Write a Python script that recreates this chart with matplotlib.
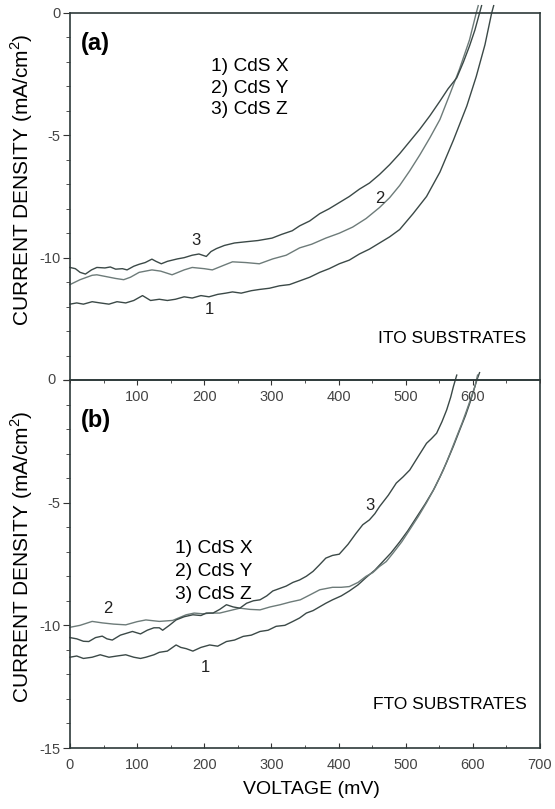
import matplotlib.pyplot as plt
from matplotlib.ticker import MultipleLocator

plt.rcParams['font.family'] = ['Liberation Sans', 'DejaVu Sans']
plt.rcParams['mathtext.fontset'] = 'custom'
plt.rcParams['mathtext.rm'] = 'Liberation Sans'
plt.rcParams['axes.unicode_minus'] = False

# (a) ITO substrates
ito_x1 = [0, 10, 20, 33, 45, 58, 70, 83, 95, 108, 120, 133, 145, 157, 170, 182, 195, 207, 220, 232,
          242, 255, 270, 282, 297, 312, 327, 342, 357, 372, 386, 401, 416, 431, 446, 461, 476, 491,
          511, 531, 551, 571, 591, 605, 618, 628, 631]
ito_y1 = [-11.9, -11.85, -11.9, -11.8, -11.85, -11.9, -11.8, -11.85, -11.75, -11.55, -11.75, -11.7,
          -11.75, -11.7, -11.6, -11.65, -11.55, -11.6, -11.5, -11.45, -11.4, -11.45, -11.35, -11.3,
          -11.25, -11.15, -11.1, -10.95, -10.8, -10.6, -10.45, -10.25, -10.1, -9.85, -9.65, -9.4,
          -9.15, -8.85, -8.2, -7.5, -6.5, -5.2, -3.8, -2.6, -1.3, 0, 0.3]
ito_x2 = [0, 15, 33, 40, 55, 68, 80, 90, 103, 122, 135, 152, 170, 182, 200, 212, 230, 242, 262,
          282, 302, 322, 342, 360, 381, 401, 421, 441, 461, 476, 491, 506, 521, 536, 551, 566, 580,
          595, 605, 608]
ito_y2 = [-11.1, -10.9, -10.72, -10.7, -10.78, -10.85, -10.9, -10.8, -10.6, -10.5, -10.55, -10.7,
          -10.5, -10.4, -10.45, -10.5, -10.3, -10.17, -10.2, -10.25, -10.05, -9.9, -9.6, -9.45,
          -9.2, -9.0, -8.75, -8.4, -7.95, -7.55, -7.05, -6.45, -5.8, -5.1, -4.35, -3.3, -2.3, -1.1,
          0, 0.3]
ito_x3 = [0, 8, 15, 23, 32, 40, 52, 60, 68, 78, 85, 95, 103, 112, 122, 128, 136, 145, 160, 170,
          182, 192, 203, 210, 218, 230, 245, 262, 280, 301, 315, 331, 342, 357, 372, 386, 401, 416,
          431, 446, 461, 476, 491, 506, 521, 536, 551, 563, 576, 586, 595, 603, 610, 613]
ito_y3 = [-10.4, -10.45, -10.6, -10.67, -10.5, -10.4, -10.42, -10.38, -10.47, -10.45, -10.5,
          -10.35, -10.27, -10.2, -10.06, -10.15, -10.25, -10.15, -10.05, -10.0, -9.9, -9.85, -9.95,
          -9.75, -9.63, -9.5, -9.4, -9.35, -9.3, -9.2, -9.05, -8.9, -8.7, -8.5, -8.2, -8.0, -7.75,
          -7.5, -7.2, -6.95, -6.6, -6.2, -5.75, -5.25, -4.75, -4.2, -3.6, -3.1, -2.65, -2.0, -1.35,
          -0.7, 0, 0.3]

# (b) FTO substrates
fto_x1 = [0, 10, 20, 33, 45, 58, 70, 83, 95, 105, 113, 125, 133, 145, 158, 165, 173, 183, 195, 208,
          220, 233, 245, 258, 270, 283, 295, 307, 320, 332, 342, 352, 362, 381, 391, 404, 416, 429,
          441, 454, 466, 478, 491, 503, 516, 529, 541, 551, 561, 571, 581, 589, 596, 606, 610]
fto_y1 = [-11.3, -11.25, -11.35, -11.3, -11.2, -11.3, -11.25, -11.2, -11.3, -11.35, -11.3, -11.2,
          -11.1, -11.05, -10.8, -10.9, -10.95, -11.05, -10.9, -10.8, -10.85, -10.66, -10.6, -10.45,
          -10.4, -10.25, -10.2, -10.04, -10.0, -9.84, -9.7, -9.5, -9.4, -9.1, -8.96, -8.8, -8.6,
          -8.35, -8.05, -7.75, -7.4, -7.05, -6.6, -6.15, -5.6, -5.05, -4.5, -3.95, -3.35, -2.7, -2.0,
          -1.45, -0.9, 0, 0.3]
fto_x2 = [0, 15, 33, 48, 65, 83, 100, 113, 133, 153, 173, 185, 198, 210, 223, 238, 253, 268, 283,
          298, 313, 328, 343, 358, 372, 391, 404, 416, 429, 441, 451, 461, 471, 481, 494, 506, 519,
          531, 544, 556, 566, 576, 584, 591, 597, 603, 607]
fto_y2 = [-10.08, -10.0, -9.84, -9.9, -9.95, -9.98, -9.85, -9.78, -9.84, -9.8, -9.57, -9.5, -9.53,
          -9.5, -9.5, -9.4, -9.3, -9.35, -9.37, -9.25, -9.16, -9.05, -8.96, -8.75, -8.55, -8.45,
          -8.45, -8.42, -8.25, -8.0, -7.85, -7.6, -7.4, -7.06, -6.6, -6.1, -5.55, -5.0, -4.35,
          -3.67, -3.0, -2.3, -1.75, -1.22, -0.75, -0.27, 0.2]
fto_x3 = [0, 10, 20, 28, 38, 48, 55, 63, 75, 93, 105, 115, 125, 133, 138, 148, 158, 170, 183, 195,
          203, 213, 223, 233, 243, 253, 263, 273, 283, 293, 302, 312, 322, 332, 342, 352, 362, 371,
          381, 391, 401, 414, 426, 436, 446, 454, 461, 474, 486, 496, 506, 519, 531, 538, 546, 554,
          561, 567, 571, 576]
fto_y3 = [-10.5, -10.55, -10.65, -10.66, -10.5, -10.44, -10.55, -10.6, -10.4, -10.25, -10.35, -10.2,
          -10.1, -10.1, -10.2, -10.0, -9.78, -9.65, -9.57, -9.6, -9.5, -9.5, -9.35, -9.16, -9.25,
          -9.3, -9.1, -9.0, -8.96, -8.8, -8.6, -8.5, -8.4, -8.25, -8.15, -8.0, -7.8, -7.55, -7.26,
          -7.15, -7.1, -6.7, -6.25, -5.9, -5.7, -5.45, -5.16, -4.7, -4.2, -3.95, -3.67, -3.1, -2.58,
          -2.4, -2.17, -1.7, -1.22, -0.7, -0.27, 0.2]

legend_lines = ['1) CdS X', '2) CdS Y', '3) CdS Z']

dark = '#3b4947'
light = '#6d7b79'
tick_col = '#444444'

fig = plt.figure(figsize=(5.55, 8.09), dpi=100)
ax_b = fig.add_axes([70/555, 1-748/809, 470/555, 368/809])
ax_a = fig.add_axes([70/555, 1-380/809, 470/555, 367/809])
ax_a.set_facecolor('none')

for ax in (ax_a, ax_b):
    ax.set_xlim(0, 700)
    ax.set_ylim(-15, 0)
    ax.xaxis.set_minor_locator(MultipleLocator(50))
    ax.yaxis.set_minor_locator(MultipleLocator(1))
    ax.tick_params(axis='y', which='both', direction='out', labelsize=10.5,
                   labelcolor=tick_col, color='#333333', pad=2)
    ax.tick_params(axis='y', which='major', length=5)
    ax.tick_params(axis='y', which='minor', length=3)
    for s in ax.spines.values():
        s.set_linewidth(1.2)
        s.set_color('#2e3a3a')

ax_a.set_yticks([0, -5, -10, -15])
ax_a.set_yticklabels(['0', '-5', '-10', ''])
ax_a.set_xticks([100, 200, 300, 400, 500, 600])
ax_a.tick_params(axis='x', which='both', direction='out', labelsize=10.5,
                 labelcolor=tick_col, color='#333333', pad=4)
ax_a.tick_params(axis='x', which='major', length=3.5)
ax_a.tick_params(axis='x', which='minor', length=2.5)

ax_b.set_yticks([0, -5, -10, -15])
ax_b.set_yticklabels(['', '-5', '-10', '-15'])
ax_b.set_xticks([0, 100, 200, 300, 400, 500, 600, 700])
ax_b.tick_params(axis='x', which='both', direction='in', labelsize=10.5,
                 labelcolor=tick_col, color='#333333', pad=7)
ax_b.tick_params(axis='x', which='major', length=3.5)
ax_b.tick_params(axis='x', which='minor', length=2.5)
# the shared "0" at the joint of the two panels
ax_a.text(-0.03, 0, '0', transform=ax_a.transAxes, fontsize=10.5, color=tick_col,
          ha='right', va='center')

ax_a.plot(ito_x1, ito_y1, color=dark, lw=1.0, clip_on=False)
ax_a.plot(ito_x2, ito_y2, color=light, lw=1.0, clip_on=False)
ax_a.plot(ito_x3, ito_y3, color=dark, lw=1.0, clip_on=False)

ax_b.plot(fto_x1, fto_y1, color=dark, lw=1.0, clip_on=False)
ax_b.plot(fto_x2, fto_y2, color=light, lw=1.0, clip_on=False)
ax_b.plot(fto_x3, fto_y3, color=dark, lw=1.0, clip_on=False)

# curve numbers
ax_a.text(188, -9.3, '3', fontsize=12, ha='center', va='center', color='#222222')
ax_a.text(207, -12.1, '1', fontsize=12, ha='center', va='center', color='#222222')
ax_a.text(461, -7.6, '2', fontsize=12, ha='center', va='center', color='#222222')
ax_b.text(57, -9.3, '2', fontsize=12, ha='center', va='center', color='#222222')
ax_b.text(202, -11.7, '1', fontsize=12, ha='center', va='center', color='#222222')
ax_b.text(447, -5.13, '3', fontsize=12, ha='center', va='center', color='#222222')

ax_a.text(0.023, 0.918, '(a)', transform=ax_a.transAxes, fontsize=17, fontweight='bold',
          ha='left', va='center')
ax_b.text(0.023, 0.891, '(b)', transform=ax_b.transAxes, fontsize=17, fontweight='bold',
          ha='left', va='center')

for i, t in enumerate(legend_lines):
    ax_a.text(0.30, 0.854 - i*0.059, t, transform=ax_a.transAxes, fontsize=13.8,
              ha='left', va='center')
    ax_b.text(0.223, 0.543 - i*0.0625, t, transform=ax_b.transAxes, fontsize=13.8,
              ha='left', va='center')

ax_a.text(0.97, 0.114, 'ITO SUBSTRATES', transform=ax_a.transAxes, fontsize=12.5,
          ha='right', va='center')
ax_b.text(0.972, 0.117, 'FTO SUBSTRATES', transform=ax_b.transAxes, fontsize=12.5,
          ha='right', va='center')

ylab = 'CURRENT DENSITY (mA/cm$^{\\mathrm{2}}$)'
fig.text(22/555, 1-180/809, ylab, rotation=90, fontsize=15, ha='center', va='center')
fig.text(22/555, 1-557/809, ylab, rotation=90, fontsize=15, ha='center', va='center')
fig.text(311/555, 1-790/809, 'VOLTAGE (mV)', fontsize=14, ha='center', va='center')

fig.savefig('out.png', dpi=100)
